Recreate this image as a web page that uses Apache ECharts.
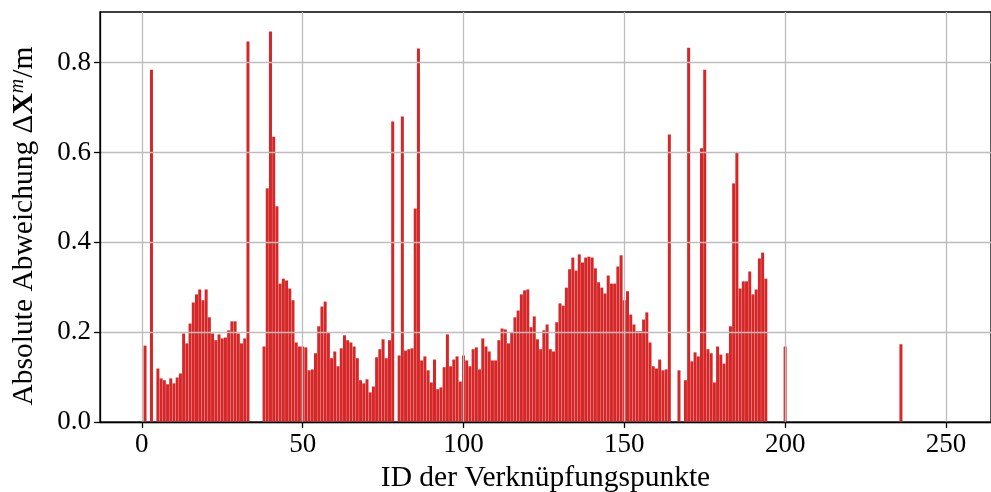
<!DOCTYPE html>
<html>
<head>
<meta charset="utf-8">
<script src="https://cdn.jsdelivr.net/npm/echarts@6/dist/echarts.min.js"></script>
<style>
html,body{margin:0;padding:0;background:#fff;}
#chart{width:991px;height:492px;}
</style>
</head>
<body>
<div id="chart"></div>
<script>
const ids = [1,3,5,6,7,8,9,10,11,12,13,14,15,16,17,18,19,20,21,22,23,24,25,26,27,28,29,30,31,32,33,
38,39,40,41,42,43,44,45,46,47,48,49,50,51,52,53,54,55,56,57,58,59,60,61,62,63,64,65,66,67,68,69,70,
71,72,73,74,75,76,77,78,80,81,82,83,84,85,86,87,88,89,90,91,92,93,94,95,96,97,98,99,100,
101,102,103,104,105,106,107,108,109,110,111,112,113,114,115,116,117,118,119,120,
121,122,123,124,125,126,127,128,129,130,131,132,133,134,135,136,137,138,139,140,
141,142,143,144,145,146,147,148,149,150,151,152,153,154,155,156,157,158,159,160,
161,162,163,164,167,169,170,171,172,173,174,175,176,177,178,179,180,
181,182,183,184,185,186,187,188,189,190,191,192,193,194,200,236];
const values = [0.170,0.784,0.119,0.097,0.093,0.084,0.097,0.086,0.099,0.108,0.197,0.175,0.219,0.266,0.284,0.295,0.271,0.295,0.233,0.197,0.182,0.195,0.186,0.188,0.204,0.224,0.224,0.197,0.175,0.186,0.847,
0.168,0.520,0.869,0.635,0.480,0.308,0.319,0.315,0.297,0.271,0.177,0.168,0.168,0.166,0.115,0.117,0.153,0.213,0.257,0.268,0.199,0.142,0.157,0.124,0.164,0.193,0.182,0.177,0.168,0.142,0.093,0.086,0.095,
0.066,0.079,0.144,0.162,0.184,0.142,0.182,0.669,0.148,0.680,0.159,0.162,0.164,0.475,0.831,0.137,0.146,0.115,0.088,0.139,0.073,0.077,0.122,0.195,0.124,0.139,0.146,0.090,0.148,
0.137,0.124,0.162,0.166,0.117,0.186,0.168,0.157,0.137,0.137,0.182,0.208,0.206,0.175,0.199,0.233,0.248,0.284,0.293,0.295,
0.211,0.235,0.184,0.162,0.204,0.217,0.162,0.157,0.222,0.264,0.259,0.299,0.340,0.366,0.337,0.373,0.355,0.366,0.368,0.366,
0.342,0.311,0.299,0.286,0.326,0.308,0.308,0.346,0.371,0.271,0.291,0.239,0.217,0.202,0.202,0.228,0.244,0.177,0.124,0.119,
0.139,0.115,0.117,0.640,0.115,0.093,0.833,0.135,0.155,0.146,0.609,0.784,0.162,0.153,0.088,0.168,0.150,
0.130,0.153,0.213,0.531,0.600,0.297,0.313,0.313,0.335,0.284,0.295,0.364,0.377,0.319,0.168,0.173];
const xTicks = [0,50,100,150,200,250];
const yTicks = [0,0.2,0.4,0.6,0.8];
const xTitle = 'ID der Verknüpfungspunkte';

const data = ids.map((id,i)=>[id, values[i]]);
const FONT = 'Liberation Serif';
const chart = echarts.init(document.getElementById('chart'), null, {renderer:'canvas'});
chart.setOption({
  animation:false,
  backgroundColor:'#fff',
  grid:{left:100,right:0,top:12,bottom:70,containLabel:false,outerBoundsMode:'none',show:true,borderColor:'#000',borderWidth:1.3,backgroundColor:'transparent'},
  xAxis:{
    type:'value', min:-13, max:264, z:5,
    name:xTitle, nameLocation:'middle', nameGap:41,
    nameTextStyle:{fontFamily:FONT,fontSize:29.5,color:'#000'},
    axisLine:{show:true,onZero:false,lineStyle:{color:'#000',width:1.3}},
    axisTick:{show:true,customValues:xTicks,length:6,lineStyle:{color:'#000',width:1.3}},
    axisLabel:{customValues:xTicks,fontFamily:FONT,fontSize:27,color:'#000',margin:9},
    splitLine:{show:true,lineStyle:{color:'#bdbdbd',width:1.3}}
  },
  yAxis:{
    type:'value', min:0, max:0.9125, z:5,
    name:'{t|Absolute Abweichung Δ}{b|X}{s|m}{t|/m}', nameLocation:'middle', nameGap:59, nameRotate:90,
    nameTextStyle:{fontFamily:FONT,fontSize:29.5,color:'#000',padding:[0,18,0,0],
      rich:{t:{fontFamily:FONT,fontSize:29.5,color:'#000'},
            b:{fontFamily:FONT,fontSize:29.5,fontWeight:'bold',color:'#000'},
            s:{fontFamily:FONT,fontSize:20,fontStyle:'italic',color:'#000',verticalAlign:'top',padding:[0,1,13,0]}}},
    axisLine:{show:true,onZero:false,lineStyle:{color:'#000',width:1.3}},
    axisTick:{show:true,customValues:yTicks,length:6,lineStyle:{color:'#000',width:1.3}},
    axisLabel:{customValues:yTicks,fontFamily:FONT,fontSize:27,color:'#000',margin:9,formatter:v=>v.toFixed(1)},
    splitLine:{show:true,lineStyle:{color:'#bdbdbd',width:1.3}}
  },
  series:[{
    type:'bar', data:data, barWidth:3.0, z:1,
    itemStyle:{color:'#d62728'}
  }]
});
</script>
</body>
</html>
